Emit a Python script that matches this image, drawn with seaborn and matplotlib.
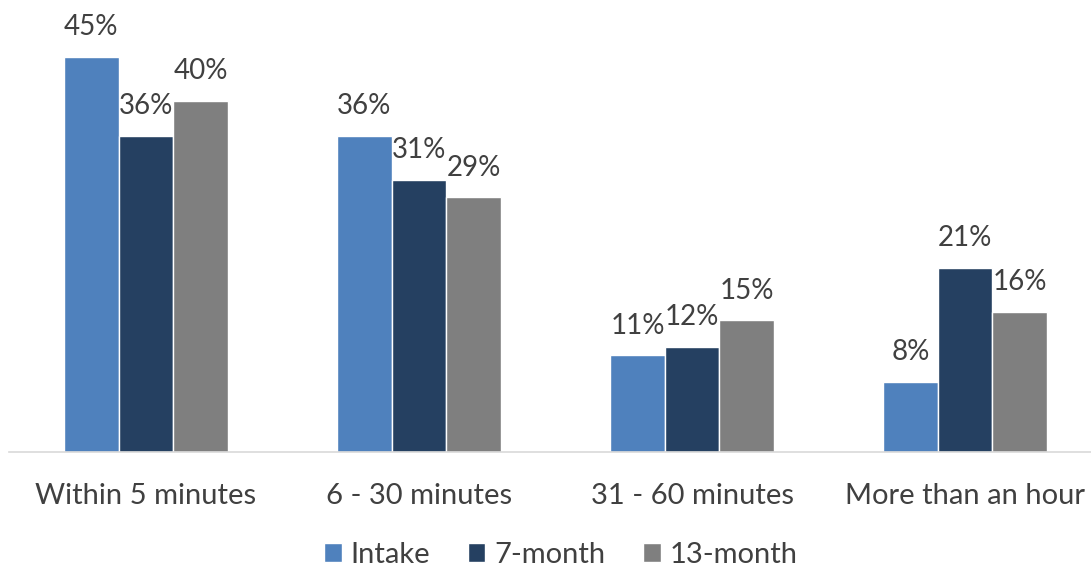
import pandas as pd
import seaborn as sns
import matplotlib.pyplot as plt

categories = ['Within 5 minutes', '6 - 30 minutes', '31 - 60 minutes', 'More than an hour']
series = ['Intake', '7-month', '13-month']
intake = [45, 36, 11, 8]
month7 = [36, 31, 12, 21]
month13 = [40, 29, 15, 16]
colors = ['#4F81BD', '#254061', '#7F7F7F']

df = pd.DataFrame({
    'category': categories * 3,
    'series': [s for s in series for _ in categories],
    'value': intake + month7 + month13,
})

sns.set_style('white')
plt.rcParams['font.family'] = ['Lato', 'DejaVu Sans']

fig = plt.figure(figsize=(10.91, 5.67), dpi=100)
ax = fig.add_axes([0.0087, 0.2028, 1.001, 0.774])

sns.barplot(data=df, x='category', y='value', hue='series', order=categories,
            hue_order=series, palette=colors, width=0.6, edgecolor='white',
            linewidth=1, saturation=1, ax=ax)

for cont in ax.containers:
    ax.bar_label(cont, labels=[f'{v:.0f}%' for v in cont.datavalues],
                 padding=12, fontsize=20, color='#404040', clip_on=False)

ax.set_xlim(-0.5, 3.5)
ax.set_ylim(0, 50)
ax.set_yticks([])
ax.set_xlabel('')
ax.set_ylabel('')
for s in ['top', 'right', 'left']:
    ax.spines[s].set_visible(False)
ax.spines['bottom'].set_color('#D9D9D9')
ax.spines['bottom'].set_linewidth(1.2)
ax.tick_params(axis='x', length=0, pad=22, labelsize=21, labelcolor='#404040')

ax.legend(loc='center', bbox_to_anchor=(0.514, 0.022), bbox_transform=fig.transFigure,
          ncol=3, frameon=False, fontsize=21, labelcolor='#404040',
          handlelength=0.6, handleheight=0.6, handletextpad=0.3, columnspacing=1.3)

fig.savefig('out.png', dpi=100)
